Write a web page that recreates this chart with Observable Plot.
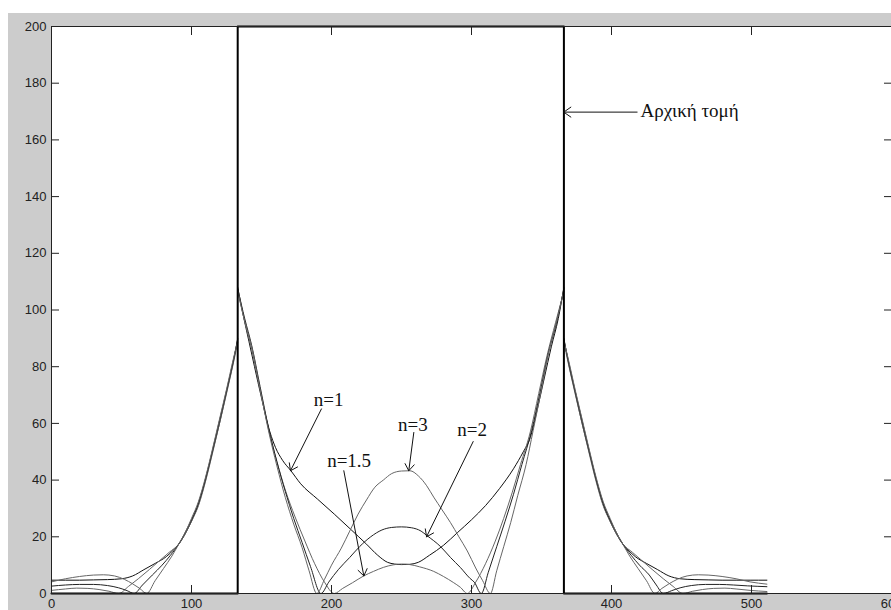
<!DOCTYPE html>
<html>
<head>
<meta charset="utf-8">
<script src="https://cdn.jsdelivr.net/npm/d3@7"></script>
<script src="https://cdn.jsdelivr.net/npm/@observablehq/plot@0.6"></script>
<style>
  html, body { margin: 0; padding: 0; background: #ffffff; overflow: hidden; }
  #wrap { position: relative; width: 891px; height: 610px; }
  #bg { position: absolute; left: 8px; top: 13px; width: 883px; height: 597px; background: #cccccc; }
  #chart { position: absolute; left: 0; top: 0; }
</style>
</head>
<body>
<div id="wrap"><div id="bg"></div><div id="chart"></div></div>
<script>
// ---- data ----
const xTicks = [0, 100, 200, 300, 400, 500, 600];
const yTicks = [0, 20, 40, 60, 80, 100, 120, 140, 160, 180, 200];

// initial section ("Αρχική τομή")
const sectionX = [0, 133, 133, 366, 366, 511];
const sectionY = [0, 0, 200, 200, 0, 0];

// n = 1
const curveN1 = [[0,4.7],[10,4.7],[20,4.7],[30,4.8],[40,4.9],[50,5.2],[58,6.2],[66,8.4],[74,10.6],[82,13],[88,15.8],[91,17.5],[96,21.5],[100,25.5],[105,31.5],[110,40],[115,50],[120,60],[125,71],[130,82],[133,90],
  [133,108],[137,98],[141,89],[145,80],[150,69],[156,57],[160,51.5],[165,47],[171,43.3],[178,38.7],[190,33.3],[202,28],[214,22.5],[225,17.4],[233,13.5],[240,11],[245,10.4],[250,10.2],[256,10.3],[262,11],[270,13.5],[280,17],[290,21.5],[300,26],[310,31],[320,37],[330,44],[337,50],[342,55],[347,65],[352,76],[357,87],[362,97],[366,108],
  [366,90],[369,82],[374,71],[379,60],[384,50],[389,40],[394,31.5],[399,25.5],[403,21.5],[408,17.5],[411,15.8],[417,13],[425,10.6],[433,8.4],[441,6.2],[449,5.2],[459,4.9],[469,4.8],[479,4.7],[489,4.7],[499,4.7],[511,4.7]];

// n = 1.5
const curveN15 = [[0,1.1],[10,1.6],[18,1.9],[26,1.8],[34,1.4],[41,0.8],[48,0],[55,2.5],[62,5.2],[70,8.5],[77,11.5],[84,14.5],[91,17.5],[96,21.5],[100,25.5],[105,31],[110,39.5],[115,49.5],[120,60],[125,70.5],[130,81.5],[133,88.5],
  [133,106.5],[138,96],[143,86],[149,72],[155,58],[161,46.5],[167,36.5],[174,27],[181,18.5],[188,10.5],[195,4],[202,0],
  [208,1.8],[215,3.8],[223,6.2],[230,7.8],[237,9.2],[244,10.1],[250,10.4],[256,10.2],[263,9.4],[273,7.8],[280,6],[287,3.9],[292,2.2],[297,0],
  [303,4],[310,10.5],[317,18.5],[323,26.5],[329,35.5],[335,45.5],[342,57],[348,70.5],[354,84],[360,95.5],[366,106.5],
  [366,88.5],[369,81.5],[374,70.5],[379,60],[384,49.5],[389,39.5],[394,31],[399,25.5],[403,21.5],[408,17.5],[415,14.5],[422,11.5],[429,8.5],[437,5.2],[444,2.5],[451,0],[458,0.8],[465,1.4],[473,1.8],[481,1.9],[489,1.6],[499,1.1],[511,0.7]];

// n = 2
const curveN2 = [[0,2.6],[10,3],[20,3.2],[30,3.2],[40,2.8],[48,2],[54,1],[59,0],[65,3],[72,6.5],[79,10],[85,13.5],[91,17.5],[96,22],[100,26],[105,32],[110,40.5],[115,50.5],[120,61],[125,71.5],[130,82.5],[133,89.5],
  [133,107.5],[138,97],[143,87.5],[149,73],[155,58.5],[161,46.5],[167,36],[173,26.5],[179,18],[185,9.5],[192.5,0],
  [198,4],[205,8.5],[213,12.7],[220,16.5],[228,20],[236,22.4],[243,23.3],[250,23.5],[257,23.2],[264,22],[268,20.5],[278,16.5],[285,12.7],[292,9.2],[299,5.3],[302,4],[307,0],
  [312,7.5],[318,16.5],[324,25.5],[330,35],[336,45.5],[343,57.5],[349,71],[355,85],[361,96],[366,107.5],
  [366,89.5],[369,82.5],[374,71.5],[379,61],[384,50.5],[389,40.5],[394,32],[399,26],[403,22],[408,17.5],[414,13.5],[420,10],[427,6.5],[432,3],[437,0],[443,1],[449,2],[457,2.8],[467,3.2],[477,3.2],[487,3],[497,2.7],[511,2.4]];

// n = 3
const curveN3 = [[0,4.1],[10,5.2],[20,6],[30,6.5],[37,6.6],[45,6.2],[52,5],[58,3.4],[63,1.8],[68,0],[74,4.5],[80,8.8],[86,13.2],[91,17.5],[96,22],[100,26.5],[105,32.5],[110,41],[115,51],[120,61.5],[125,72],[130,83],[133,89],
  [133,107],[138,96],[143,87],[149,72],[155,57.4],[161,45],[167,33.9],[173,24.5],[179,16.2],[184,8],[189.5,0],
  [195,5],[200,10],[207,16],[213,22],[219,28],[225,33],[231,37.5],[237,40],[243,42.3],[250,43.2],[256,43.3],[262,41.5],[268,38],[273,34],[279,29.5],[285,25],[291,20],[297,15],[303,9],[308,4.5],[313.5,0],
  [318,8],[323,16.5],[328,25],[333,34.5],[339,45.5],[344,57.4],[350,72],[356,87],[361,96.5],[366,107],
  [366,89],[369,83],[374,72],[379,61.5],[384,51],[389,41],[394,32.5],[399,26.5],[403,22],[408,17.5],[413,13.2],[419,8.8],[425,4.5],[431,0],[436,1.8],[441,3.4],[447,5],[454,6.2],[462,6.6],[469,6.5],[479,6],[489,5.2],[499,4.1],[511,3.3]];

// annotations (data units)
const labelText = ["n=1", "n=1.5", "n=2", "n=3"];
const labelX = [198, 212.6, 300.5, 258.2];
const labelY = [68.4, 46.6, 57.8, 59.6];
const arrowFromX = [192.8, 208.8, 301.2, 258.8];
const arrowFromY = [65.1, 43.3, 53.6, 56.8];
const arrowToX = [170.7, 223.1, 267.9, 255.2];
const arrowToY = [43.3, 6.2, 20, 43.3];

const sectionLabel = "Αρχική τομή";
const sectionLabelX = 420.7, sectionLabelY = 170.1;
const sectionArrowX1 = 418.3, sectionArrowX2 = 365.9, sectionArrowY = 169.8;

// ---- build ----
const series = [
  {name: "n=1", pts: curveN1, color: "#111"},
  {name: "n=1.5", pts: curveN15, color: "#666"},
  {name: "n=2", pts: curveN2, color: "#222"},
  {name: "n=3", pts: curveN3, color: "#666"}
];
// split each series into continuous pieces at the jumps (repeated x)
function pieces(pts) {
  const rows = [];
  let seg = 0;
  pts.forEach((p, i) => {
    if (i > 0 && p[0] === pts[i - 1][0]) seg++;
    rows.push({x: p[0], y: p[1], seg});
  });
  return rows;
}
const section = sectionX.map((x, i) => ({x, y: sectionY[i]}));
const labels = labelText.map((t, i) => ({t, x: labelX[i], y: labelY[i], x1: arrowFromX[i], y1: arrowFromY[i], x2: arrowToX[i], y2: arrowToY[i]}));

const serif = "'Liberation Serif', 'Times New Roman', serif";

const chart = Plot.plot({
  width: 891,
  height: 610,
  marginLeft: 51,
  marginRight: 0,
  marginTop: 26,
  marginBottom: 17,
  style: {background: "transparent", fontFamily: "'Liberation Sans', Arial, sans-serif", fontSize: "13px", color: "#222"},
  x: {domain: [0, 600], label: null},
  y: {domain: [0, 200], label: null},
  marks: [
    Plot.frame({fill: "white", stroke: "none"}),
    ...series.map(s => Plot.line(pieces(s.pts), {x: "x", y: "y", z: "seg", curve: "monotone-x", stroke: s.color, strokeWidth: 1})),
    Plot.line(section, {x: "x", y: "y", stroke: "#000", strokeWidth: 2}),
    Plot.arrow(labels, {x1: "x1", y1: "y1", x2: "x2", y2: "y2", stroke: "#111", strokeWidth: 1, headLength: 12, headAngle: 70}),
    Plot.text(labels, {x: "x", y: "y", text: "t", fontFamily: serif, fontSize: 19, fill: "#111"}),
    Plot.arrow([{x1: sectionArrowX1, x2: sectionArrowX2, y: sectionArrowY}], {x1: "x1", x2: "x2", y1: "y", y2: "y", stroke: "#111", strokeWidth: 1, headLength: 13, headAngle: 70}),
    Plot.text([{t: sectionLabel, x: sectionLabelX, y: sectionLabelY}], {x: "x", y: "y", text: "t", textAnchor: "start", fontFamily: serif, fontSize: 19, fill: "#111"}),
    Plot.axisY(yTicks, {anchor: "left", tickSize: -8, tickPadding: 13, label: null, stroke: "#222"}),
    Plot.axisX(xTicks, {anchor: "bottom", tickSize: -8, tickPadding: 13, label: null, stroke: "#222"}),
    Plot.axisX(xTicks, {anchor: "top", tickSize: -8, tickFormat: () => "", label: null, stroke: "#222"}),
    Plot.axisY(yTicks, {anchor: "right", tickSize: -8, tickFormat: () => "", label: null, stroke: "#222"}),
    Plot.frame({stroke: "#222"})
  ]
});
document.getElementById("chart").appendChild(chart);
</script>
</body>
</html>
